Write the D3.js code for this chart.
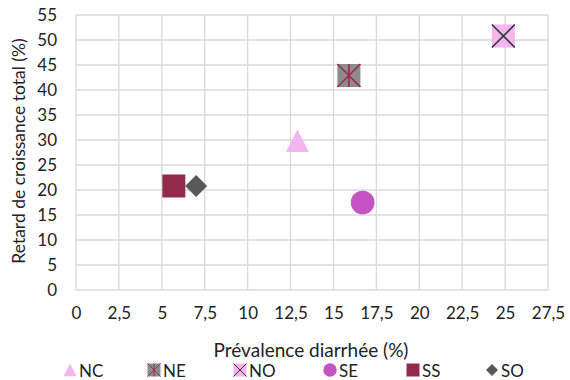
<!DOCTYPE html>
<html>
<head>
<meta charset="utf-8">
<script src="https://cdn.jsdelivr.net/npm/d3@7"></script>
<style>
  html, body { margin: 0; padding: 0; background: #fff; }
  svg { display: block; font-family: Lato, "Open Sans", sans-serif; }
</style>
</head>
<body>
<svg id="chart" width="570" height="380"></svg>
<script>
// Regions and their values
const regions = ["NC", "NE", "NO", "SE", "SS", "SO"];
const diarrhea = [12.9, 15.9, 24.9, 16.7, 5.7, 7.0];   // Prévalence diarrhée (%)
const stunting = [29.8, 42.9, 50.8, 17.5, 20.8, 20.8]; // Retard de croissance total (%)
const xTicks = [0, 2.5, 5, 7.5, 10, 12.5, 15, 17.5, 20, 22.5, 25, 27.5];
const yTicks = [0, 5, 10, 15, 20, 25, 30, 35, 40, 45, 50, 55];

const styles = {
  NC: { shape: "triangle", fill: "#f2b5ee" },
  NE: { shape: "squareStar", fill: "#8c8c8c", line: "#a3284f" },
  NO: { shape: "squareX", fill: "#f2b5ee", line: "#333333" },
  SE: { shape: "circle", fill: "#c653c3" },
  SS: { shape: "square", fill: "#932a4c" },
  SO: { shape: "diamond", fill: "#595959" }
};

const svg = d3.select("#chart");
const margin = { left: 76, right: 22, top: 15, bottom: 90 };
const W = 570, H = 380;

const x = d3.scaleLinear().domain([0, 27.5]).range([margin.left, W - margin.right]);
const y = d3.scaleLinear().domain([0, 55]).range([H - margin.bottom, margin.top]);

const fmt = v => String(v).replace(".", ",");

// Gridlines
const grid = svg.append("g");
grid.selectAll("line.v").data(xTicks).join("line")
  .attr("x1", d => x(d)).attr("x2", d => x(d))
  .attr("y1", y(0)).attr("y2", y(55))
  .attr("stroke", "#d9d9d9").attr("stroke-width", 1.3);
grid.selectAll("line.h").data(yTicks).join("line")
  .attr("x1", x(0)).attr("x2", x(27.5))
  .attr("y1", d => y(d)).attr("y2", d => y(d))
  .attr("stroke", "#d9d9d9").attr("stroke-width", 1.3);

// Axes (labels only)
const xAxis = svg.append("g").attr("transform", `translate(0,${y(0)})`)
  .call(d3.axisBottom(x).tickValues(xTicks).tickFormat(fmt).tickSize(0).tickPadding(17));
const yAxis = svg.append("g").attr("transform", `translate(${x(0)},0)`)
  .call(d3.axisLeft(y).tickValues(yTicks).tickSize(0).tickPadding(19));
[xAxis, yAxis].forEach(a => {
  a.select(".domain").remove();
  a.selectAll("text").attr("font-size", 17).attr("fill", "#222")
    .attr("font-family", "Lato, sans-serif");
});

// Axis titles
svg.append("text").attr("x", 311).attr("y", 357).attr("text-anchor", "middle")
  .attr("font-size", 19).attr("fill", "#222").text("Prévalence diarrhée (%)");
svg.append("text").attr("transform", `translate(25,151) rotate(-90)`)
  .attr("text-anchor", "middle").attr("font-size", 17.5).attr("fill", "#222")
  .text("Retard de croissance total (%)");

// Marker drawing
function drawMarker(g, name, size) {
  const s = styles[name];
  const h = size / 2;
  if (s.shape === "triangle") {
    g.append("path").attr("d", `M0,${-h * 1.0}L${h},${h * 0.95}L${-h},${h * 0.95}Z`).attr("fill", s.fill);
  } else if (s.shape === "circle") {
    g.append("circle").attr("r", h * 1.03).attr("fill", s.fill);
  } else if (s.shape === "diamond") {
    g.append("path").attr("d", `M0,${-h}L${h},0L0,${h}L${-h},0Z`).attr("fill", s.fill);
  } else {
    g.append("rect").attr("x", -h).attr("y", -h).attr("width", size).attr("height", size).attr("fill", s.fill);
    if (s.shape === "squareStar" || s.shape === "squareX") {
      const sw = Math.max(1, size / 14);
      g.append("line").attr("x1", -h).attr("y1", -h).attr("x2", h).attr("y2", h).attr("stroke", s.line).attr("stroke-width", sw);
      g.append("line").attr("x1", -h).attr("y1", h).attr("x2", h).attr("y2", -h).attr("stroke", s.line).attr("stroke-width", sw);
      if (s.shape === "squareStar") {
        g.append("line").attr("x1", 0).attr("y1", -h).attr("x2", 0).attr("y2", h).attr("stroke", s.line).attr("stroke-width", sw);
      }
    }
  }
}

const sizes = { NC: 23, NE: 23, NO: 23, SE: 23, SS: 23, SO: 22 };

// Points
const points = svg.append("g");
regions.forEach((r, i) => {
  const g = points.append("g").attr("transform", `translate(${x(diarrhea[i])},${y(stunting[i])})`);
  drawMarker(g, r, sizes[r]);
});

// Legend
const legendX = [70, 154, 240, 330, 413, 492];
const legend = svg.append("g");
regions.forEach((r, i) => {
  const g = legend.append("g").attr("transform", `translate(${legendX[i]},370)`);
  drawMarker(g.append("g"), r, r === "SO" ? 12 : 13);
  g.append("text").attr("x", 9).attr("y", 7).attr("font-size", 17).attr("fill", "#222").text(r);
});
</script>
</body>
</html>
